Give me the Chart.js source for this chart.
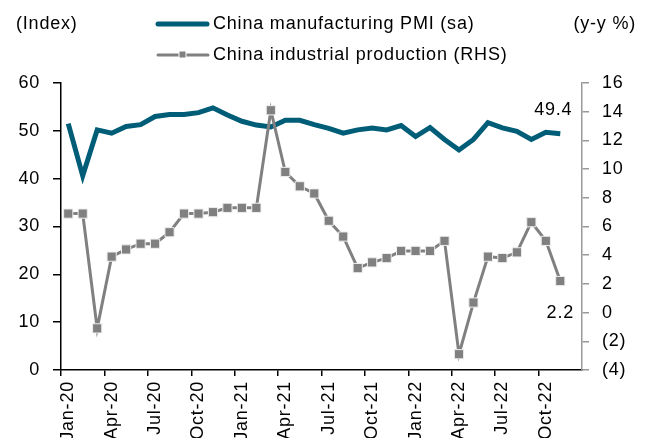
<!DOCTYPE html>
<html>
<head>
<meta charset="utf-8">
<script src="https://cdn.jsdelivr.net/npm/chart.js@4.4.1/dist/chart.umd.min.js"></script>
<style>
  html, body { margin: 0; padding: 0; background: #fff; }
  #wrap { width: 645px; height: 438px; }
</style>
</head>
<body>
<div id="wrap"><canvas id="chart" width="645" height="438"></canvas></div>
<script>
// monthly categories, Jan-20 .. Dec-22
const months = [
  'Jan-20', 'Feb-20', 'Mar-20', 'Apr-20', 'May-20', 'Jun-20', 'Jul-20', 'Aug-20', 'Sep-20', 'Oct-20', 'Nov-20', 'Dec-20',
  'Jan-21', 'Feb-21', 'Mar-21', 'Apr-21', 'May-21', 'Jun-21', 'Jul-21', 'Aug-21', 'Sep-21', 'Oct-21', 'Nov-21', 'Dec-21',
  'Jan-22', 'Feb-22', 'Mar-22', 'Apr-22', 'May-22', 'Jun-22', 'Jul-22', 'Aug-22', 'Sep-22', 'Oct-22', 'Nov-22', 'Dec-22',
]

const pmi = [
  51.5, 40.6, 50.2, 49.5, 50.9, 51.3, 53.0, 53.4, 53.4, 53.8, 54.8, 53.3,
  52.0, 51.2, 50.8, 52.2, 52.2, 51.3, 50.5, 49.5, 50.2, 50.6, 50.2, 51.1,
  48.8, 50.7, 48.2, 46.0, 48.2, 51.7, 50.6, 49.9, 48.2, 49.7, 49.4, null,
]

const industrialProduction = [
  6.9, 6.9, -1.1, 3.9, 4.4, 4.8, 4.8, 5.6, 6.9, 6.9, 7.0, 7.3,
  7.3, 7.3, 14.1, 9.8, 8.8, 8.3, 6.4, 5.3, 3.1, 3.5, 3.8, 4.3,
  4.3, 4.3, 5.0, -2.9, 0.7, 3.9, 3.8, 4.2, 6.3, 5.0, 2.2, null,
]

const leftTicks = { min: 0, max: 60, step: 10 }
const rightTicks = { min: -4, max: 16, step: 2 }

const seriesNames = ['China manufacturing PMI (sa)', 'China industrial production (RHS)']
const axisTitles = ['(Index)', '(y-y %)']
const endLabels = ['49.4', '2.2']

const TEAL = '#005d78'
const GREY = '#808080'
const FONT = '"Liberation Sans", Arial, sans-serif'
const SPACING = '0.8px'

const overlay = {
  id: 'overlay',
  beforeDraw(chart) {
    // the reference text runs a little wide
    chart.ctx.letterSpacing = SPACING
  },
  afterDraw(chart) {
    const ctx = chart.ctx
    ctx.save()
    ctx.letterSpacing = SPACING
    ctx.fillStyle = '#000'
    ctx.font = `18px ${FONT}`
    ctx.textBaseline = 'middle'

    // axis titles
    ctx.textAlign = 'left'
    ctx.fillText(axisTitles[0], 16, 24)
    ctx.textAlign = 'right'
    ctx.fillText(axisTitles[1], 636, 24)

    // legend
    ctx.textAlign = 'left'
    ctx.lineCap = 'round'
    ctx.strokeStyle = TEAL
    ctx.lineWidth = 5
    ctx.beginPath()
    ctx.moveTo(158, 24)
    ctx.lineTo(207, 24)
    ctx.stroke()
    ctx.fillText(seriesNames[0], 213, 24)

    ctx.strokeStyle = GREY
    ctx.lineWidth = 3
    ctx.beginPath()
    ctx.moveTo(158, 55)
    ctx.lineTo(208, 55)
    ctx.stroke()
    ctx.fillStyle = GREY
    ctx.strokeStyle = '#fff'
    ctx.lineWidth = 1
    ctx.fillRect(179, 51, 7, 7)
    ctx.strokeRect(179, 51, 7, 7)
    ctx.fillStyle = '#000'
    ctx.fillText(seriesNames[1], 213, 55)

    // end-of-series labels
    const lastPmi = chart.getDatasetMeta(0).data[34]
    const lastIp = chart.getDatasetMeta(1).data[34]
    ctx.textAlign = 'center'
    ctx.fillText(endLabels[0], lastPmi.x - 7, lastPmi.y - 24)
    ctx.fillText(endLabels[1], lastIp.x, lastIp.y + 32)
    ctx.restore()
  },
}

const tickFont = { family: FONT, size: 18 }

new Chart(document.getElementById('chart'), {
  type: 'line',
  data: {
    labels: months,
    datasets: [
      {
        label: seriesNames[0],
        data: pmi,
        yAxisID: 'y',
        borderColor: TEAL,
        borderWidth: 5,
        pointRadius: 0,
        tension: 0,
        order: 2,
      },
      {
        label: seriesNames[1],
        data: industrialProduction,
        yAxisID: 'y2',
        borderColor: GREY,
        borderWidth: 3,
        pointStyle: 'rect',
        pointRadius: 6.5,
        pointBackgroundColor: GREY,
        pointBorderColor: '#eeeeee',
        pointBorderWidth: 1,
        tension: 0,
        order: 1,
      },
    ],
  },
  options: {
    responsive: false,
    animation: false,
    layout: { padding: { top: 83, left: 0, right: 0, bottom: 0 } },
    plugins: {
      legend: { display: false },
      tooltip: { enabled: false },
    },
    scales: {
      x: {
        type: 'category',
        offset: true,
        grid: {
          offset: true,
          drawOnChartArea: false,
          tickLength: 6,
          lineWidth: 1.5,
          color: (c) => (c.index % 3 === 0 ? '#000' : 'rgba(0,0,0,0)'),
        },
        border: { color: '#000', width: 1.5 },
        ticks: {
          autoSkip: false,
          maxRotation: 90,
          minRotation: 90,
          padding: 5,
          color: '#000',
          font: tickFont,
          callback(value, index) {
            return index % 3 === 0 ? this.getLabelForValue(value) : ''
          },
        },
        afterFit(scale) {
          scale.height = 68
        },
      },
      y: {
        position: 'left',
        min: leftTicks.min,
        max: leftTicks.max,
        grid: { drawOnChartArea: false, tickLength: 8, color: '#000', lineWidth: 1.5 },
        border: { color: '#000', width: 1.5 },
        ticks: { stepSize: leftTicks.step, color: '#000', font: tickFont, padding: 13 },
        afterFit(scale) {
          scale.width = 61
        },
      },
      y2: {
        position: 'right',
        min: rightTicks.min,
        max: rightTicks.max,
        grid: { drawOnChartArea: false, tickLength: 7, color: '#999', lineWidth: 1.5 },
        border: { color: '#999', width: 1.5 },
        ticks: {
          stepSize: rightTicks.step,
          color: '#000',
          font: tickFont,
          padding: 13,
          callback: (v) => (v < 0 ? `(${-v})` : v),
        },
        afterFit(scale) {
          scale.width = 63
        },
      },
    },
  },
  plugins: [overlay],
})
</script>
</body>
</html>
